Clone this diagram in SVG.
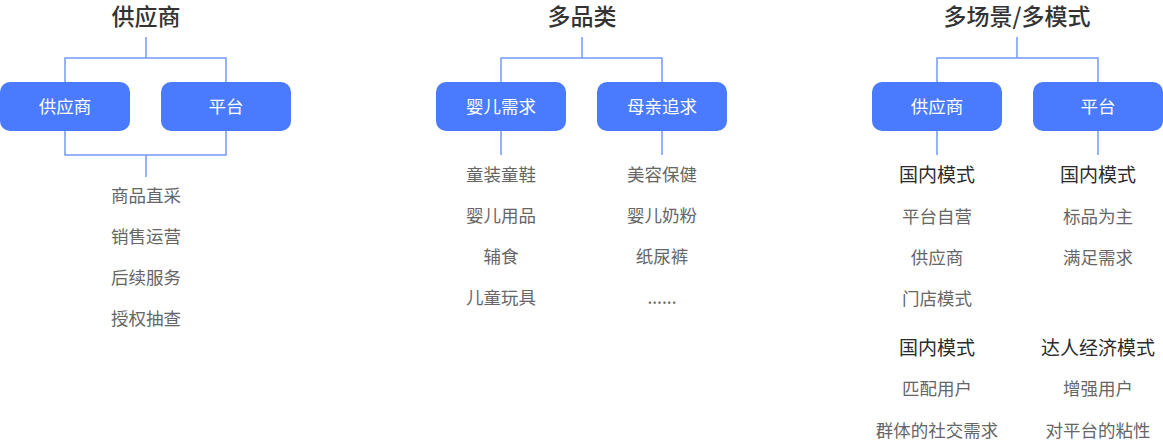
<svg xmlns="http://www.w3.org/2000/svg" width="1163" height="444" viewBox="0 0 1163 444">
<style>
text{font-family:"Noto Sans CJK SC","Noto Sans",sans-serif;text-anchor:middle;dominant-baseline:central}
.title{font-size:23px;font-weight:500;fill:#333}
.box{fill:#4a7bff}
.bl{font-size:17.5px;fill:#fff;font-weight:400}
.it{font-size:17.5px;fill:#666}
.sh{font-size:19px;fill:#2b2b2b;font-weight:400}
.ln{fill:none;stroke:#7399ff;stroke-width:1.5}
</style>
<rect width="1163" height="444" fill="#fff"/>
<g id="connectors">
<path class="ln" d="M146 37V58M65 82V58H226V82M65 131V155H226V131M146 155V177"/>
<path class="ln" d="M582 37V58M501 82V58H662V82M501 131V155M662 131V155"/>
<path class="ln" d="M1017 37V58M937 82V58H1098V82M937 131V155M1098 131V155"/>
</g>
<g id="sec1">
<text class="title" x="146" y="15">供应商</text>
<g id="n1a"><rect class="box" x="0" y="82" width="130" height="49" rx="10"/><text class="bl" x="65" y="105.5">供应商</text></g>
<g id="n1b"><rect class="box" x="161" y="82" width="130" height="49" rx="10"/><text class="bl" x="226" y="105.5">平台</text></g>
<text class="it" x="146" y="194">商品直采</text>
<text class="it" x="146" y="235">销售运营</text>
<text class="it" x="146" y="276">后续服务</text>
<text class="it" x="146" y="317">授权抽查</text>
</g>
<g id="sec2">
<text class="title" x="582" y="15">多品类</text>
<g id="n2a"><rect class="box" x="436" y="82" width="130" height="49" rx="10"/><text class="bl" x="501" y="105.5">婴儿需求</text></g>
<g id="n2b"><rect class="box" x="597" y="82" width="130" height="49" rx="10"/><text class="bl" x="662" y="105.5">母亲追求</text></g>
<text class="it" x="501" y="173">童装童鞋</text>
<text class="it" x="501" y="214">婴儿用品</text>
<text class="it" x="501" y="255">辅食</text>
<text class="it" x="501" y="296">儿童玩具</text>
<text class="it" x="662" y="173">美容保健</text>
<text class="it" x="662" y="214">婴儿奶粉</text>
<text class="it" x="662" y="255">纸尿裤</text>
<text class="it" x="662" y="296">......</text>
</g>
<g id="sec3">
<text class="title" x="1017" y="15">多场景/多模式</text>
<g id="n3a"><rect class="box" x="872" y="82" width="130" height="49" rx="10"/><text class="bl" x="937" y="105.5">供应商</text></g>
<g id="n3b"><rect class="box" x="1033" y="82" width="130" height="49" rx="10"/><text class="bl" x="1098" y="105.5">平台</text></g>
<text class="sh" x="937" y="173">国内模式</text>
<text class="it" x="937" y="215">平台自营</text>
<text class="it" x="937" y="256">供应商</text>
<text class="it" x="937" y="297">门店模式</text>
<text class="sh" x="937" y="346">国内模式</text>
<text class="it" x="937" y="387">匹配用户</text>
<text class="it" x="937" y="429">群体的社交需求</text>
<text class="sh" x="1098" y="173">国内模式</text>
<text class="it" x="1098" y="215">标品为主</text>
<text class="it" x="1098" y="256">满足需求</text>
<text class="sh" x="1098" y="346">达人经济模式</text>
<text class="it" x="1098" y="387">增强用户</text>
<text class="it" x="1098" y="429">对平台的粘性</text>
</g>
</svg>
